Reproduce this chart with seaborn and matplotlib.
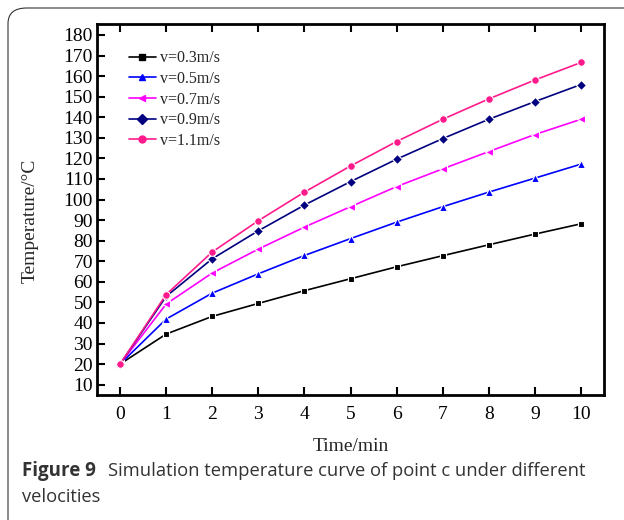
import numpy as np
import pandas as pd
import matplotlib
matplotlib.use("Agg")
import matplotlib.pyplot as plt
import seaborn as sns
from matplotlib.patches import FancyBboxPatch

time_min = [0, 1, 2, 3, 4, 5, 6, 7, 8, 9, 10]
v03 = [20, 34.6, 43.2, 49.5, 55.7, 61.5, 67.3, 72.7, 78.0, 83.2, 88.2]
v05 = [20, 41.9, 54.5, 63.9, 72.8, 81.0, 89.0, 96.5, 103.6, 110.4, 117.2]
v07 = [20, 49.2, 64.3, 75.9, 86.6, 96.5, 106.3, 114.9, 123.3, 131.6, 139.0]
v09 = [20, 52.9, 71.2, 84.8, 97.3, 108.7, 119.6, 129.6, 139.0, 147.6, 155.9]
v11 = [20, 53.8, 74.5, 89.7, 103.6, 116.3, 128.2, 139.0, 148.9, 158.1, 166.6]

labels = ["v=0.3m/s", "v=0.5m/s", "v=0.7m/s", "v=0.9m/s", "v=1.1m/s"]
series = [v03, v05, v07, v09, v11]
colors = ["#000000", "#0000FF", "#FF00FF", "#000080", "#FF1A8C"]
markers = ["s", "^", "<", "D", "o"]
msizes = [5, 6, 6, 5, 5.5]

rows = []
for lab, vals in zip(labels, series):
    for t, v in zip(time_min, vals):
        rows.append({"Time": t, "Temperature": v, "Series": lab})
df = pd.DataFrame(rows)

sns.set_theme(style="white")
plt.rcParams["font.family"] = ["Liberation Serif", "DejaVu Serif"]

fig = plt.figure(figsize=(6.24, 5.2), dpi=100)
ax = fig.add_axes([0.1554, 0.2404, 0.968 - 0.1554, 0.9538 - 0.2404])

sns.lineplot(data=df, x="Time", y="Temperature", hue="Series", style="Series",
             palette=dict(zip(labels, colors)), markers=dict(zip(labels, markers)),
             dashes=False, ax=ax, linewidth=1.2, markersize=5.5,
             markeredgewidth=0.8, legend=False)
for line, ms in zip(ax.lines, msizes):
    line.set_markersize(ms)

for lab, c, m in zip(labels, colors, markers):
    ax.plot([], [], color=c, marker=m, markersize=5, linewidth=1.2, label=lab)
leg = ax.legend(loc="upper left", bbox_to_anchor=(0.063, 0.929), frameon=False,
                fontsize=11.5, handlelength=1.7, handletextpad=0.25,
                labelspacing=0.29, borderaxespad=0, borderpad=0)

ax.set_xlim(-0.5, 10.5)
ax.set_ylim(5, 185.3)
ax.set_xticks(time_min)
ax.set_yticks(np.arange(10, 181, 10))
ax.tick_params(axis="both", direction="in", length=6, width=1.5, labelsize=14,
               colors="black", top=True, labeltop=False, right=False, left=True, bottom=True)
ax.tick_params(axis="x", pad=8)
ax.tick_params(axis="y", pad=3)
for s in ax.spines.values():
    s.set_linewidth(2)
    s.set_color("black")
    s.set_visible(True)

ax.set_xlabel("Time/min", fontsize=14, labelpad=11)
ax.set_ylabel("Temperature/°C", fontsize=14, labelpad=7)
ax.yaxis.set_label_coords(-0.115, 0.47)

# border
border = FancyBboxPatch((8 / 624, -0.05), 1.2, 1 - 8 / 520 + 0.05,
                        boxstyle="round,pad=0,rounding_size=0.03",
                        transform=fig.transFigure, fill=False,
                        edgecolor="#333333", linewidth=0.8, clip_on=False)
fig.patches.append(border)

cap_font = ["Open Sans", "DejaVu Sans"]
t1 = fig.text(22 / 624, 1 - 471 / 520, "Figure 9", fontsize=13.5, fontweight="bold",
              family=cap_font, color="#333333", va="center", ha="left")
fig.canvas.draw()
bb = t1.get_window_extent(renderer=fig.canvas.get_renderer())
x2 = (bb.x1 + 12) / fig.bbox.width
fig.text(x2, 1 - 471 / 520, "Simulation temperature curve of point c under different",
         fontsize=13.2, family=cap_font, color="#333333", va="center", ha="left")
fig.text(22 / 624, 1 - 497 / 520, "velocities", fontsize=13.2, family=cap_font,
         color="#333333", va="center", ha="left")

fig.savefig("out.png", dpi=100)
